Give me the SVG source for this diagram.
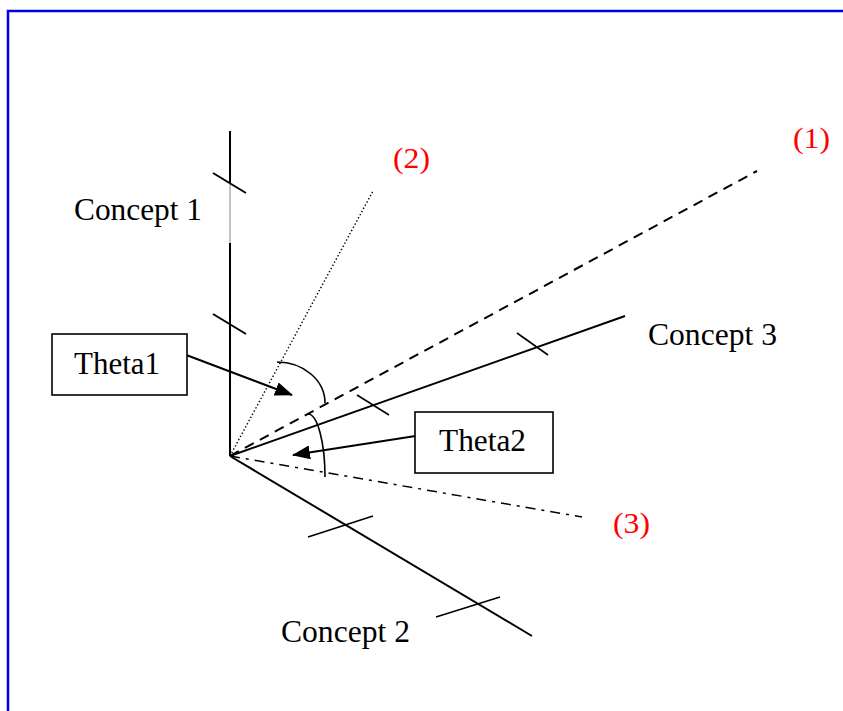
<svg xmlns="http://www.w3.org/2000/svg" width="843" height="711" viewBox="0 0 843 711">
<defs>
<marker id="ah" markerWidth="18" markerHeight="14" refX="17" refY="7" orient="auto" markerUnits="userSpaceOnUse">
<path d="M0,0 L18,7 L0,14 z" fill="#000"/>
</marker>
<style>
.t{font-family:"Liberation Serif","Times New Roman",serif;font-size:32px;fill:#000}
.r{font-family:"Liberation Serif","Times New Roman",serif;font-size:30px;fill:#ff0000}
.ax{stroke:#000;stroke-width:2;fill:none}
.tk{stroke:#000;stroke-width:1.6;fill:none}
.box{fill:#fff;stroke:#000;stroke-width:1.6}
</style>
</defs>
<rect x="8" y="11" width="900" height="800" fill="#fff" stroke="#0000ee" stroke-width="2.5"/>
<g id="connectors">
<line x1="230" y1="456" x2="373" y2="191" stroke="#000" stroke-width="1.4" stroke-dasharray="1.4,2.2"/>
<line x1="230" y1="456" x2="757" y2="171" stroke="#000" stroke-width="2" stroke-dasharray="10,7"/>
<line x1="230" y1="456" x2="582" y2="517" stroke="#000" stroke-width="1.5" stroke-dasharray="10,6,3,6"/>
<path d="M277,362 A48,41 0 0 1 325,403" class="tk"/>
<path d="M308,414 A17,63 0 0 1 325,477" class="tk"/>
<line x1="181" y1="353" x2="292" y2="395" class="ax" marker-end="url(#ah)"/>
<line x1="422" y1="435" x2="293" y2="455" class="ax" marker-end="url(#ah)"/>
</g>
<g id="concept1">
<line x1="230" y1="131" x2="230" y2="183" class="ax"/>
<line x1="230" y1="183" x2="230" y2="243" stroke="#888" stroke-width="1"/>
<line x1="230" y1="243" x2="230" y2="456" class="ax"/>
<line x1="213" y1="173" x2="246" y2="193" class="ax"/>
<line x1="213" y1="314" x2="246" y2="334" class="ax"/>
<text class="t" x="74" y="220" textLength="128" lengthAdjust="spacingAndGlyphs">Concept 1</text>
</g>
<g id="concept2">
<line x1="230" y1="456" x2="532" y2="636" class="ax"/>
<line x1="308" y1="537" x2="373" y2="516" class="tk"/>
<line x1="436" y1="617" x2="500" y2="597" class="tk"/>
<text class="t" x="281" y="642" textLength="129" lengthAdjust="spacingAndGlyphs">Concept 2</text>
</g>
<g id="concept3">
<line x1="230" y1="456" x2="625" y2="316" class="ax"/>
<line x1="357" y1="395" x2="389" y2="415" class="tk"/>
<line x1="517" y1="333" x2="548" y2="355" class="tk"/>
<text class="t" x="648" y="345" textLength="129" lengthAdjust="spacingAndGlyphs">Concept 3</text>
</g>
<g id="label1"><text class="r" x="793" y="148" textLength="37" lengthAdjust="spacingAndGlyphs">(1)</text></g>
<g id="label2"><text class="r" x="393" y="168" textLength="37" lengthAdjust="spacingAndGlyphs">(2)</text></g>
<g id="label3"><text class="r" x="613" y="533" textLength="37" lengthAdjust="spacingAndGlyphs">(3)</text></g>
<g id="theta1">
<rect class="box" x="52" y="334" width="135" height="61"/>
<text class="t" x="74" y="374" textLength="86" lengthAdjust="spacingAndGlyphs">Theta1</text>
</g>
<g id="theta2">
<rect class="box" x="415" y="412" width="138" height="61"/>
<text class="t" x="439" y="451" textLength="87" lengthAdjust="spacingAndGlyphs">Theta2</text>
</g>
</svg>
